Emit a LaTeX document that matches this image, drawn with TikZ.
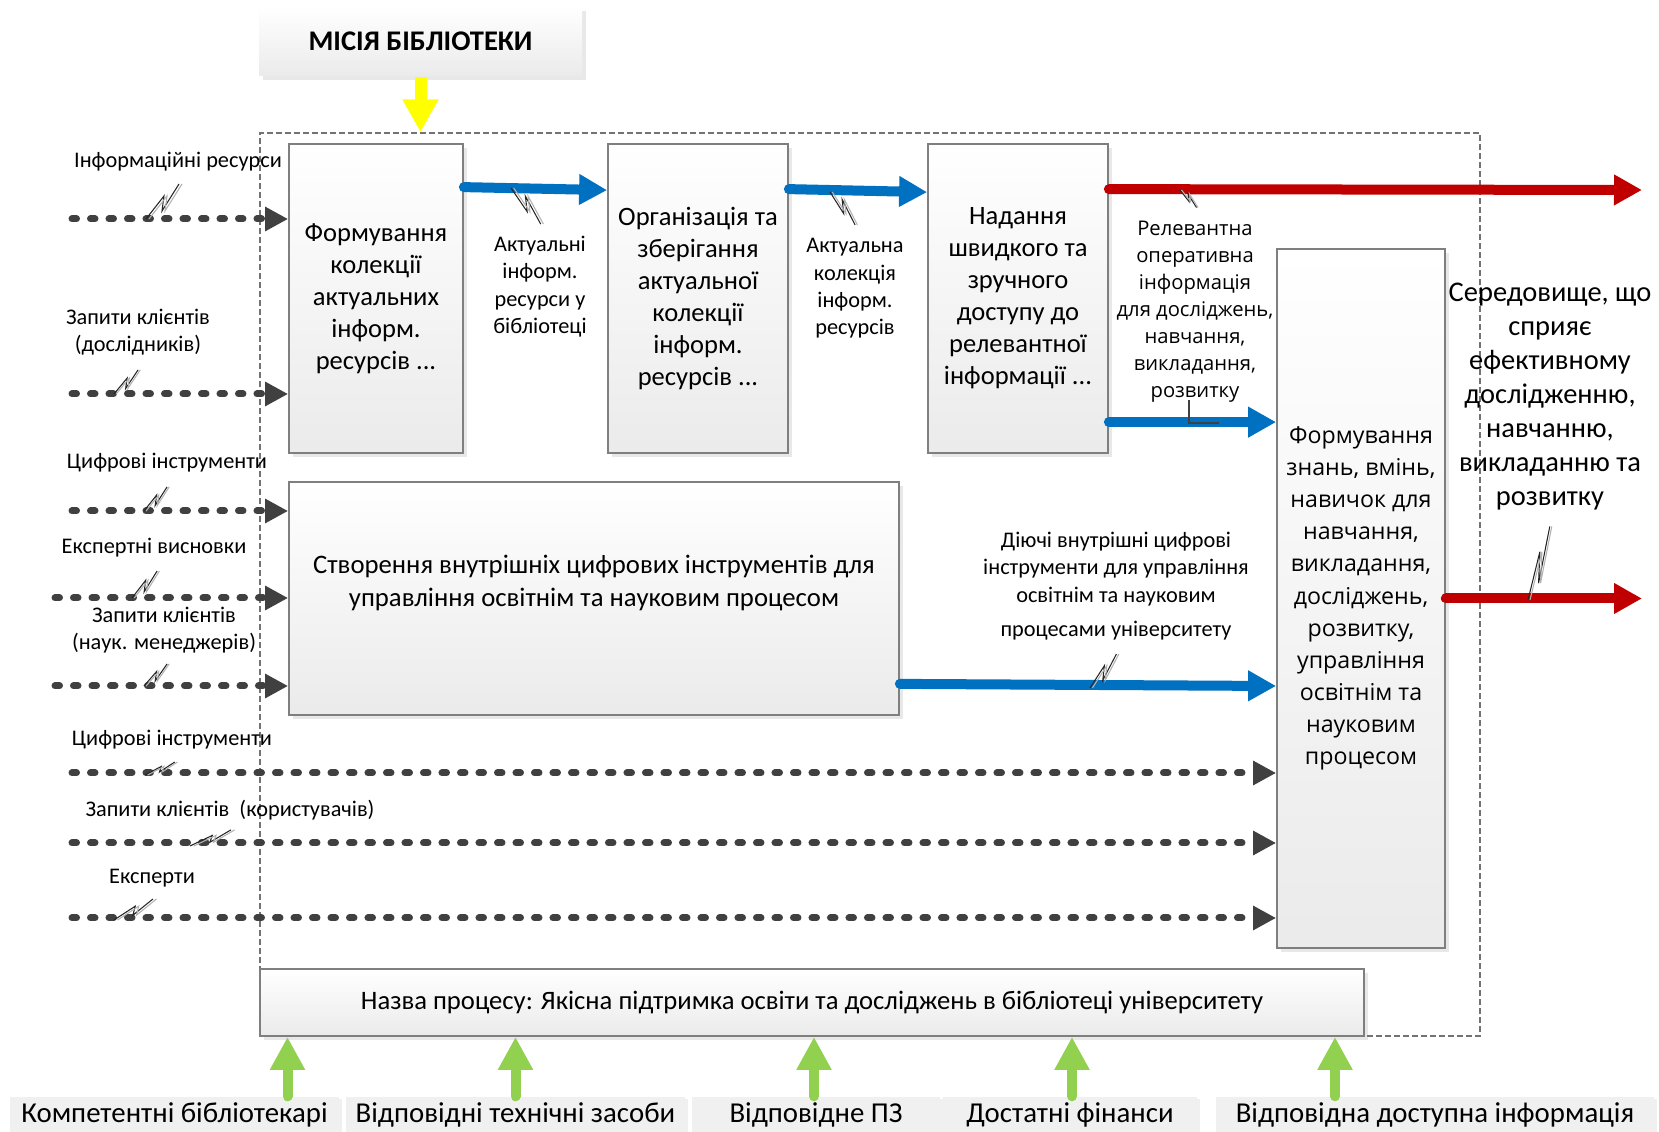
\documentclass[tikz,border=0pt]{standalone}
\usepackage{fontspec}
\setmainfont{Carlito}
\newfontfamily\opensans{Open Sans}
\usetikzlibrary{arrows.meta,shadows}
\definecolor{flowblue}{HTML}{0070C0}
\definecolor{flowred}{HTML}{C00000}
\definecolor{resgreen}{HTML}{92D050}
\definecolor{missyellow}{HTML}{FFFF00}
\definecolor{inputgray}{HTML}{404040}
\definecolor{boxline}{HTML}{7F7F7F}
\tikzset{
  procbox/.style={draw=boxline, line width=0.5pt, top color=white, bottom color=black!8,
                  drop shadow={opacity=0.18, shadow xshift=0.04cm, shadow yshift=-0.04cm},
                  align=center, inner sep=1pt, font=\fontsize{7.55pt}{9.1pt}\selectfont},
  mission/.style={procbox, draw=none, minimum width=3.23cm, minimum height=0.69cm,
                  font=\bfseries\fontsize{8.1pt}{9pt}\selectfont},
  resbox/.style={fill=black!6, draw=none, minimum height=0.35cm, inner sep=0pt,
                 drop shadow={opacity=0.12, shadow xshift=0.03cm, shadow yshift=-0.02cm},
                 font=\fontsize{8.2pt}{9pt}\selectfont},
  frame/.style={draw=black!55, line width=0.4pt, dash pattern=on 0.06cm off 0.03cm,
                minimum width=12.2cm, minimum height=9.03cm, inner sep=0pt},
  lbl/.style={align=center, inner sep=0pt, font=\fontsize{6.35pt}{7.8pt}\selectfont},
  inarrow/.style={inputgray, line width=0.07cm, line cap=round,
                  dash pattern=on 0.045cm off 0.14cm, -{Triangle[length=0.23cm, width=0.23cm]}},
  bluearrow/.style={flowblue, line width=0.1cm, line cap=round,
                    -{Triangle[length=0.28cm, width=0.29cm]}},
  redarrow/.style={bluearrow, flowred},
  greenarrow/.style={resgreen, line width=0.10cm, line cap=round,
                     -{Triangle[length=0.33cm, width=0.33cm]}},
  missarrow/.style={missyellow, line width=0.12cm, -{Triangle[length=0.33cm, width=0.34cm]}},
  squig/.pic={
    \draw[black!85, line width=0.3pt] (0,0) -- (0.18,0.23) -- (0.16,0.08) -- (0.33,0.35);
    \draw[black!30, line width=0.3pt] (0.03,0) -- (0.21,0.23) -- (0.19,0.08) -- (0.36,0.35);
  },
}

\begin{document}
\begin{tikzpicture}
  \useasboundingbox (0,0) rectangle (16.59,-11.32);
  \node[frame] (frame) at (8.70,-5.845) {};
  \node[mission] (M) at (4.205,-0.415) {МІСІЯ БІБЛІОТЕКИ};

  \node[procbox, minimum width=1.74cm, minimum height=3.09cm] (A) at (3.76,-2.985)
    {Формування\\колекції\\актуальних\\інформ.\\ресурсів ...};
  \node[procbox, minimum width=1.80cm, minimum height=3.09cm] (B) at (6.98,-2.985)
    {Організація та\\зберігання\\актуальної\\колекції\\інформ.\\ресурсів ...};
  \node[procbox, minimum width=1.80cm, minimum height=3.09cm] (C) at (10.18,-2.985)
    {Надання\\швидкого та\\зручного\\доступу до\\релевантної\\інформації ...};
  \node[procbox, minimum width=6.10cm, minimum height=2.33cm] (D) at (5.94,-5.985) {};
  \node[lbl, font=\fontsize{7.6pt}{9.2pt}\selectfont] (Dtext) at (5.94,-5.83)
    {Створення внутрішніх цифрових інструментів для\\управління освітнім та науковим процесом};
  \node[procbox, minimum width=1.68cm, minimum height=6.99cm,
        font=\opensans\fontsize{6.6pt}{9.15pt}\selectfont] (E) at (13.61,-5.985)
    {Формування\\знань, вмінь,\\навичок для\\навчання,\\викладання,\\досліджень,\\розвитку,\\управління\\освітнім та\\науковим\\процесом};
  \node[procbox, minimum width=11.04cm, minimum height=0.67cm,
        font=\fontsize{7.58pt}{9pt}\selectfont] (F) at (8.12,-10.025)
    {Назва процесу: Якісна підтримка освіти та досліджень в бібліотеці університету};

  \node[resbox, minimum width=3.29cm] (L1) at (1.745,-11.145) {Компетентні бібліотекарі};
  \node[resbox, minimum width=3.39cm] (L2) at (5.155,-11.145) {Відповідні технічні засоби};
  \node[resbox, minimum width=2.48cm] (L3) at (8.16,-11.145) {Відповідне ПЗ};
  \node[resbox, minimum width=2.54cm] (L4) at (10.70,-11.145) {Достатні фінанси};
  \node[resbox, minimum width=4.38cm] (L5) at (14.35,-11.145) {Відповідна доступна інформація};

  \node[lbl] (t1) at (1.78,-1.62) {Інформаційні ресурси};
  \node[lbl] (t2) at (1.38,-3.32) {Запити клієнтів\\(дослідників)};
  \node[lbl] (t3) at (1.67,-4.63) {Цифрові інструменти};
  \node[lbl] (t4) at (1.54,-5.48) {Експертні висновки};
  \node[lbl] (t5) at (1.64,-6.30) {Запити клієнтів\\(наук. менеджерів)};
  \node[lbl] (t6) at (1.72,-7.40) {Цифрові інструменти};
  \node[lbl] (t7) at (2.30,-8.10) {Запити клієнтів~~(користувачів)};
  \node[lbl] (t8) at (1.52,-8.78) {Експерти};
  \node[lbl] (tAB) at (5.40,-2.865) {Актуальні\\інформ.\\ресурси у\\бібліотеці};
  \node[lbl] (tBC) at (8.55,-2.885) {Актуальна\\колекція\\інформ.\\ресурсів};
  \node[lbl, font=\opensans\fontsize{5.75pt}{7.7pt}\selectfont] (tCE) at (11.95,-3.115)
    {Релевантна\\оперативна\\інформація\\для досліджень,\\навчання,\\викладання,\\розвитку};
  \node[lbl] (tDE) at (11.16,-5.86)
    {Діючі внутрішні цифрові\\інструменти для управління\\освітнім та науковим\\[2pt]процесами університету};
  \node[lbl, font=\fontsize{8.1pt}{9.7pt}\selectfont] (tOut) at (15.50,-3.965)
    {Середовище, що\\сприяє\\ефективному\\дослідженню,\\навчанню,\\викладанню та\\розвитку};

  \coordinate (in1) at (0.72,-2.19);
  \coordinate (in2) at (0.72,-3.94);
  \coordinate (in3) at (0.72,-5.11);
  \coordinate (in4) at (0.55,-5.98);
  \coordinate (in5) at (0.55,-6.86);
  \coordinate (in6) at (0.72,-7.73);
  \coordinate (in7) at (0.72,-8.43);
  \coordinate (in8) at (0.72,-9.18);
  \coordinate (outTop) at (16.42,-1.90);
  \coordinate (outBot) at (16.42,-5.985);

  \draw[inarrow] (in1) -- (A.west |- in1);
  \draw[inarrow] (in2) -- (A.west |- in2);
  \draw[inarrow] (in3) -- (D.west |- in3);
  \draw[inarrow] (in4) -- (D.west |- in4);
  \draw[inarrow] (in5) -- (D.west |- in5);
  \draw[inarrow] (in6) -- (E.west |- in6);
  \draw[inarrow] (in7) -- (E.west |- in7);
  \draw[inarrow] (in8) -- (E.west |- in8);

  \draw[bluearrow] ([yshift=-0.44cm]A.north east) -- ([yshift=-0.47cm]B.north west);
  \draw[bluearrow] ([yshift=-0.46cm]B.north east) -- ([yshift=-0.49cm]C.north west);
  \draw[redarrow] ([yshift=-0.46cm]C.north east) -- (outTop);
  \draw[bluearrow] ([yshift=-2.79cm]C.north east) coordinate (ce) -- (E.west |- ce);
  \draw[bluearrow] ([yshift=0.32cm]D.south east) -- ([yshift=-0.875cm]E.west);
  \draw[redarrow] (E.east) -- (outBot);
  \draw[missarrow] (M.south) -- (M.south |- frame.north);

  \draw[greenarrow] ([xshift=1.13cm]L1.north) -- ([xshift=1.13cm]L1.north |- F.south);
  \draw[greenarrow] (L2.north) -- (L2.north |- F.south);
  \draw[greenarrow] ([xshift=-0.02cm]L3.north) -- ([xshift=-0.02cm]L3.north |- F.south);
  \draw[greenarrow] ([xshift=0.02cm]L4.north) -- ([xshift=0.02cm]L4.north |- F.south);
  \draw[greenarrow] ([xshift=-1.00cm]L5.north) -- ([xshift=-1.00cm]L5.north |- F.south);

  \pic at (1.46,-2.19) {squig};
  \pic[xscale=0.73, yscale=0.69] at (1.14,-3.94) {squig};
  \pic[xscale=0.70, yscale=0.69] at (1.44,-5.11) {squig};
  \pic[xscale=0.76, yscale=0.77] at (1.32,-5.98) {squig};
  \pic[xscale=0.70, yscale=0.63] at (1.44,-6.86) {squig};
  \pic[xscale=0.90, yscale=0.37] at (1.45,-7.75) {squig};
  \pic[xscale=1.24, yscale=0.46] at (1.90,-8.46) {squig};
  \pic[xscale=1.18, yscale=0.60] at (1.14,-9.20) {squig};
  \pic[xscale=0.90, yscale=-1.03] at (5.11,-1.88) {squig};
  \pic[xscale=0.76, yscale=-0.94] at (8.30,-1.92) {squig};
  \pic[xscale=0.50, yscale=-0.50] at (11.80,-1.90) {squig};
  \pic[xscale=0.80, yscale=0.97] at (10.90,-6.88) {squig};
  \pic[xscale=0.66, yscale=2.10] at (15.28,-6.00) {squig};
  \draw[black!75, line width=0.5pt] (11.89,-4.00) -- (11.89,-4.23) -- (12.19,-4.23);
\end{tikzpicture}
\end{document}
